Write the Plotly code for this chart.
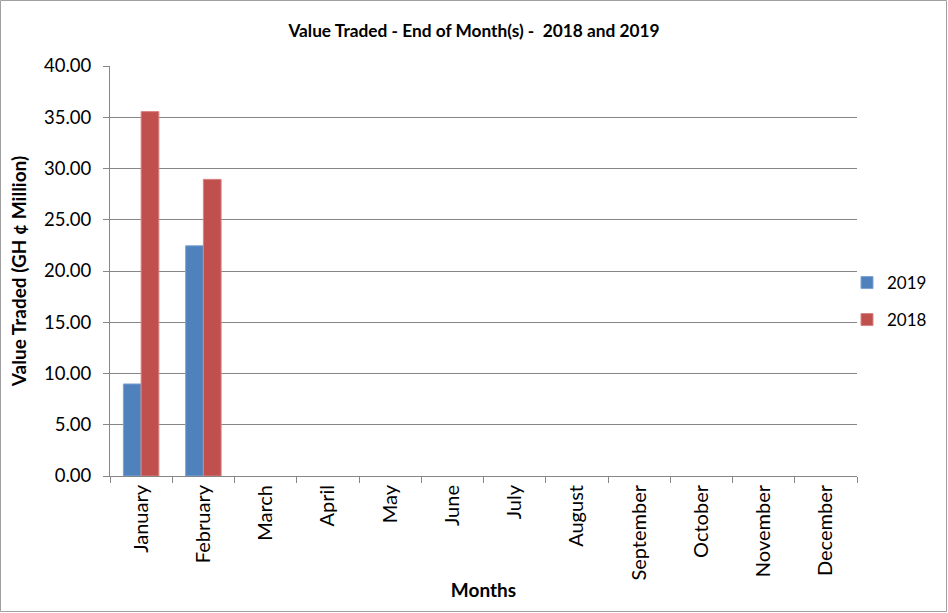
import plotly.graph_objects as go

months = ["January", "February", "March", "April", "May", "June", "July",
          "August", "September", "October", "November", "December"]
values_2019 = [8.98, 22.46, None, None, None, None, None, None, None, None, None, None]
values_2018 = [35.55, 28.94, None, None, None, None, None, None, None, None, None, None]
y_ticks = [0, 5, 10, 15, 20, 25, 30, 35, 40]
y_tick_labels = ["%.2f" % v for v in y_ticks]

W, H = 948, 613
ML, MR, MT, MB = 110, 91, 66, 137
PW, PH = W - ML - MR, H - MT - MB

font = "Lato, 'Open Sans', sans-serif"
axis_grey = "#868686"

fig = go.Figure()
fig.add_trace(go.Bar(name="2019", x=months, y=values_2019, legend="legend",
                     marker=dict(color="#4F81BD", line=dict(color="#7FA3D3", width=1))))
fig.add_trace(go.Bar(name="2018", x=months, y=values_2018, legend="legend2",
                     marker=dict(color="#C0504D", line=dict(color="#D88583", width=1))))

leg_x = 1 + (847 - (W - MR)) / PW
leg_common = dict(xanchor="left", yanchor="middle", font=dict(size=17),
                  bgcolor="rgba(0,0,0,0)", itemwidth=30, visible=True)

fig.update_layout(
    width=W, height=H,
    showlegend=True,
    margin=dict(l=ML, r=MR, t=MT, b=MB, autoexpand=False),
    paper_bgcolor="white", plot_bgcolor="white",
    barmode="group", bargap=0.43, bargroupgap=0,
    font=dict(family=font, size=18, color="#000000"),
    title=dict(text="<b>Value Traded - End of Month(s) -  2018 and 2019</b>",
               x=0.5, xanchor="center", xref="container", y=1 - 31 / H, yanchor="middle",
               yref="container",
               font=dict(family=font, size=17.3, color="#000000")),
    legend=dict(x=leg_x, y=1 - (283 - MT) / PH, **leg_common),
    legend2=dict(x=leg_x, y=1 - (320 - MT) / PH, **leg_common),
    xaxis=dict(type="category", categoryorder="array", categoryarray=months,
               tickangle=-90, ticks="outside", tickson="boundaries", ticklen=6,
               tickcolor=axis_grey, showline=True, linecolor=axis_grey, linewidth=1,
               showgrid=False, automargin=False,
               title=dict(text="<b>Months</b>", font=dict(size=19), standoff=4),
               tickfont=dict(size=20)),
    yaxis=dict(range=[0, 40], tickvals=y_ticks, ticktext=y_tick_labels,
               ticks="outside", ticklen=6, tickcolor=axis_grey, ticklabelstandoff=8,
               showline=True, linecolor=axis_grey, linewidth=1,
               showgrid=True, gridcolor=axis_grey, gridwidth=1, zeroline=False,
               automargin=False,
               title=dict(text="<b>Value Traded (GH ¢ Million)</b>", font=dict(size=19), standoff=12),
               tickfont=dict(size=18.5)),
    shapes=[dict(type="rect", xref="paper", yref="paper",
                 x0=-(ML - 0.5) / PW, x1=1 + (MR - 1.5) / PW,
                 y0=-(MB - 1.5) / PH, y1=1 + (MT - 0.5) / PH,
                 line=dict(color="#A0A0A0", width=1), fillcolor="rgba(0,0,0,0)",
                 layer="below")],
)

fig.write_html("out.html", config={"displayModeBar": False},
               post_script="document.body.style.margin='0';document.body.style.overflow='hidden';")
